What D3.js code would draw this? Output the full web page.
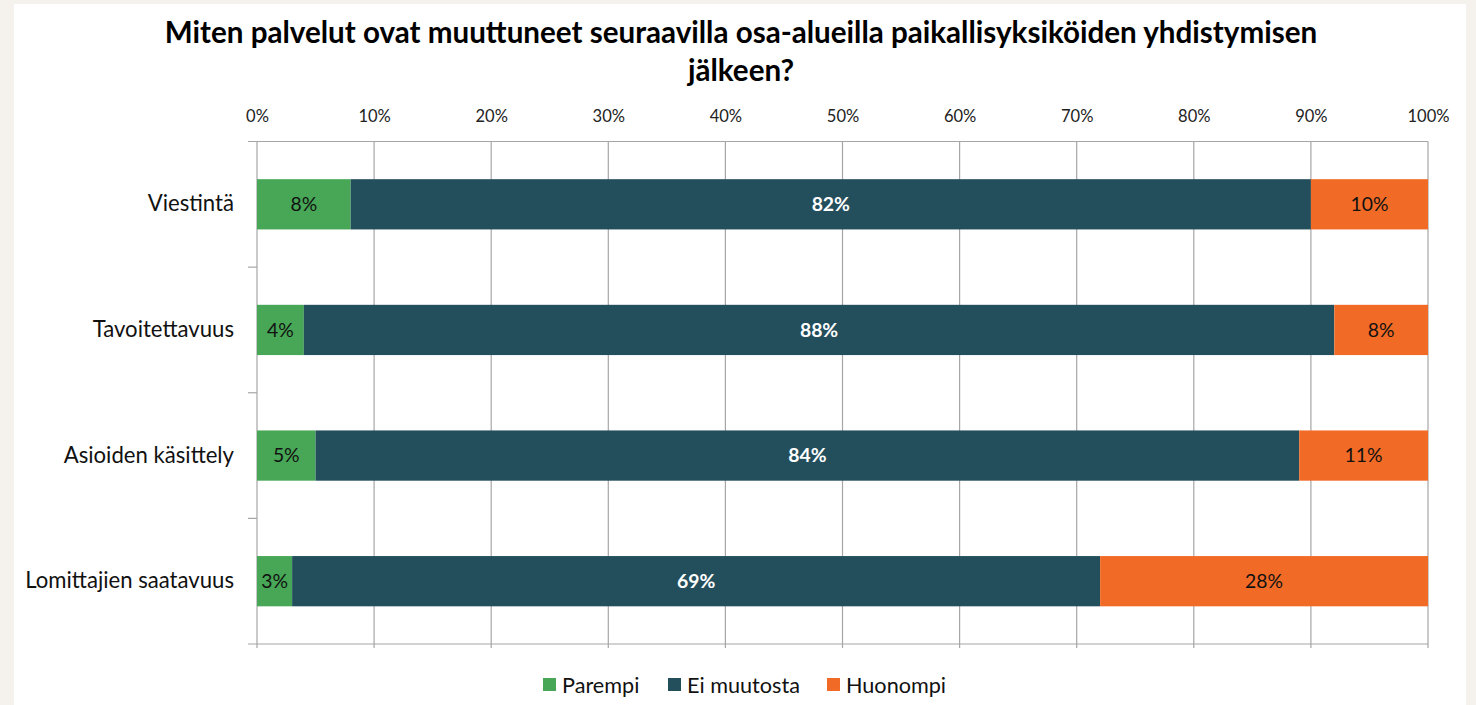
<!DOCTYPE html>
<html>
<head>
<meta charset="utf-8">
<script src="https://cdn.jsdelivr.net/npm/d3@7"></script>
<style>
  html, body { margin: 0; padding: 0; background: #f5f1ec; }
  svg { display: block; }
  text { font-family: Lato, "Open Sans", sans-serif; }
</style>
</head>
<body>
<svg id="chart" width="1476" height="705"></svg>
<script>
const titleLines = ["Miten palvelut ovat muuttuneet seuraavilla osa-alueilla paikallisyksiköiden yhdistymisen", "jälkeen?"];
const categories = ["Viestintä", "Tavoitettavuus", "Asioiden käsittely", "Lomittajien saatavuus"];
const seriesNames = ["Parempi", "Ei muutosta", "Huonompi"];
const parempi = [8, 4, 5, 3];
const eiMuutosta = [82, 88, 84, 69];
const huonompi = [10, 8, 11, 28];
const tickValues = [0, 10, 20, 30, 40, 50, 60, 70, 80, 90, 100];
const colors = ["#47a756", "#234e5c", "#f26b26"];
const labelColors = ["#111", "#fff", "#111"];

const svg = d3.select("#chart");
// white panel
svg.append("rect").attr("x", 14).attr("y", 4).attr("width", 1452).attr("height", 701).attr("fill", "#fff");

// font size that makes a sample string reach a target width
function fitSize(sample, target, weight) {
  const t = svg.append("text").attr("font-size", 20).attr("font-weight", weight || 400).text(sample);
  const w = t.node().getComputedTextLength();
  t.remove();
  return 20 * target / w;
}

const pLeft = 257, pRight = 1428, pTop = 141.5, pBottom = 644;
const x = d3.scaleLinear().domain([0, 100]).range([pLeft, pRight]);
const y = d3.scaleBand().domain(categories).range([pTop, pBottom]).paddingInner(0.6).paddingOuter(0.3);

// title
const fs = fitSize(titleLines[0], 1153, 700);
const title = svg.append("g");
titleLines.forEach((line, i) => {
  title.append("text").attr("x", 741).attr("y", 43 + i * 38).attr("text-anchor", "middle")
    .attr("font-weight", 700).attr("font-size", fs).attr("fill", "#000").text(line);
});

// gridlines
svg.append("g").selectAll("line").data(tickValues).join("line")
  .attr("x1", d => x(d)).attr("x2", d => x(d))
  .attr("y1", pTop).attr("y2", pBottom + 4)
  .attr("stroke", "#a6a6a6").attr("stroke-width", 1.2);

// horizontal top & bottom lines
svg.append("g").selectAll("line").data([pTop, pBottom]).join("line")
  .attr("x1", pLeft - 9).attr("x2", pRight).attr("y1", d => d).attr("y2", d => d)
  .attr("stroke", "#a6a6a6").attr("stroke-width", 1.2);

// category axis ticks at band boundaries
const step = (pBottom - pTop) / categories.length;
svg.append("g").selectAll("line").data(d3.range(1, categories.length)).join("line")
  .attr("x1", pLeft - 9).attr("x2", pLeft).attr("y1", d => pTop + d * step).attr("y2", d => pTop + d * step)
  .attr("stroke", "#a6a6a6").attr("stroke-width", 1.2);

// top axis labels
const tickFs = fitSize("100%", 42);
const xAxis = d3.axisTop(x).tickValues(tickValues).tickFormat(d => d + "%").tickSize(0).tickPadding(0);
const ax = svg.append("g").attr("transform", `translate(0, 122)`).call(xAxis);
ax.select(".domain").remove();
ax.selectAll("text").attr("font-size", tickFs).attr("fill", "#222").attr("font-family", "Lato, 'Open Sans', sans-serif");

// category labels
const catFs = fitSize("Lomittajien saatavuus", 209);
const yAxis = d3.axisLeft(y).tickSize(0).tickPadding(0);
const ay = svg.append("g").attr("transform", `translate(234, 0)`).call(yAxis);
ay.select(".domain").remove();
ay.selectAll("text").attr("font-size", catFs).attr("fill", "#111").attr("font-family", "Lato, 'Open Sans', sans-serif");

// stacked bars
const dataFs = fitSize("10%", 38);
const rows = categories.map((c, i) => ({ cat: c, vals: [parempi[i], eiMuutosta[i], huonompi[i]] }));
const barG = svg.append("g");
rows.forEach(r => {
  let acc = 0;
  r.vals.forEach((v, k) => {
    const x0 = x(acc), x1 = x(acc + v);
    barG.append("rect").attr("x", x0).attr("y", y(r.cat)).attr("width", x1 - x0).attr("height", y.bandwidth())
      .attr("fill", colors[k]);
    barG.append("text").attr("x", (x0 + x1) / 2).attr("y", y(r.cat) + y.bandwidth() / 2)
      .attr("dy", "0.35em").attr("text-anchor", "middle").attr("font-size", dataFs)
      .attr("font-weight", k === 1 ? 700 : 400)
      .attr("fill", labelColors[k]).text(v + "%");
    acc += v;
  });
});

// legend
const legFs = fitSize("Ei muutosta", 113);
const legendX = [543, 668, 827];
const lg = svg.append("g");
seriesNames.forEach((s, k) => {
  lg.append("rect").attr("x", legendX[k]).attr("y", 678).attr("width", 13).attr("height", 13).attr("fill", colors[k]);
  lg.append("text").attr("x", legendX[k] + 19).attr("y", 685).attr("dy", "0.35em")
    .attr("font-size", legFs).attr("fill", "#111").text(s);
});
</script>
</body>
</html>
